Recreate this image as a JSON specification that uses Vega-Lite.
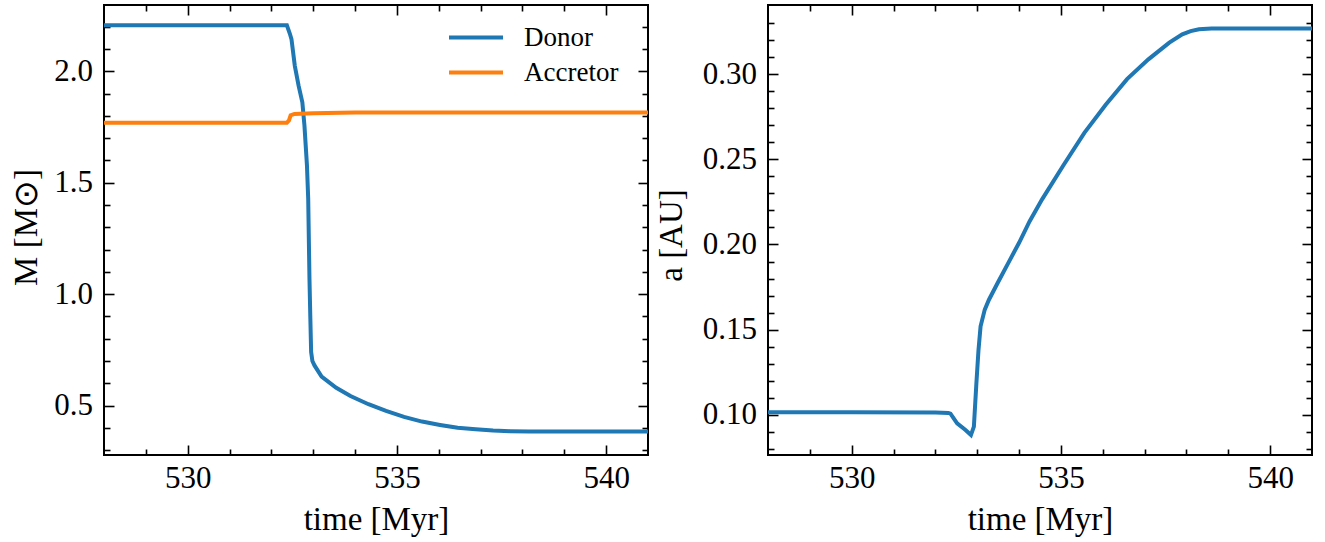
{
  "$schema": "https://vega.github.io/schema/vega-lite/v6.json",
  "padding": {"left": 9, "top": 3, "right": 5, "bottom": 5},
  "spacing": -3,
  "config": {
    "view": {"stroke": "black", "strokeWidth": 2},
    "axis": {"domain": false, "grid": false, "tickColor": "black", "tickWidth": 1.6, "labelFont": "Liberation Serif, Times New Roman, serif", "labelFontSize": 31, "labelColor": "black", "titleFont": "Liberation Serif, Times New Roman, serif", "titleFontSize": 33, "titleFontWeight": "normal", "titleColor": "black", "labelFlush": false, "labelOverlap": false}
  },
  "datasets": {
    "mass": [
      {"t": 528, "m": 2.207, "star": "Donor"},
      {"t": 530, "m": 2.207, "star": "Donor"},
      {"t": 532.37, "m": 2.207, "star": "Donor"},
      {"t": 532.44, "m": 2.17, "star": "Donor"},
      {"t": 532.48, "m": 2.145, "star": "Donor"},
      {"t": 532.56, "m": 2.025, "star": "Donor"},
      {"t": 532.65, "m": 1.936, "star": "Donor"},
      {"t": 532.74, "m": 1.861, "star": "Donor"},
      {"t": 532.79, "m": 1.757, "star": "Donor"},
      {"t": 532.85, "m": 1.578, "star": "Donor"},
      {"t": 532.88, "m": 1.428, "star": "Donor"},
      {"t": 532.91, "m": 1.07, "star": "Donor"},
      {"t": 532.93, "m": 0.9, "star": "Donor"},
      {"t": 532.95, "m": 0.74, "star": "Donor"},
      {"t": 532.98, "m": 0.70, "star": "Donor"},
      {"t": 533.03, "m": 0.68, "star": "Donor"},
      {"t": 533.2, "m": 0.63, "star": "Donor"},
      {"t": 533.55, "m": 0.58, "star": "Donor"},
      {"t": 533.89, "m": 0.543, "star": "Donor"},
      {"t": 534.32, "m": 0.506, "star": "Donor"},
      {"t": 534.74, "m": 0.476, "star": "Donor"},
      {"t": 535.17, "m": 0.449, "star": "Donor"},
      {"t": 535.6, "m": 0.428, "star": "Donor"},
      {"t": 536.03, "m": 0.413, "star": "Donor"},
      {"t": 536.45, "m": 0.40, "star": "Donor"},
      {"t": 536.88, "m": 0.394, "star": "Donor"},
      {"t": 537.3, "m": 0.388, "star": "Donor"},
      {"t": 537.7, "m": 0.385, "star": "Donor"},
      {"t": 538.16, "m": 0.383, "star": "Donor"},
      {"t": 541, "m": 0.383, "star": "Donor"},
      {"t": 528, "m": 1.769, "star": "Accretor"},
      {"t": 532.37, "m": 1.769, "star": "Accretor"},
      {"t": 532.42, "m": 1.78, "star": "Accretor"},
      {"t": 532.46, "m": 1.803, "star": "Accretor"},
      {"t": 532.55, "m": 1.809, "star": "Accretor"},
      {"t": 533.0, "m": 1.812, "star": "Accretor"},
      {"t": 534.0, "m": 1.815, "star": "Accretor"},
      {"t": 541, "m": 1.816, "star": "Accretor"}
    ],
    "sep": [
      {"t": 528, "a": 0.1016},
      {"t": 530, "a": 0.1016},
      {"t": 532.0, "a": 0.1015},
      {"t": 532.31, "a": 0.1012},
      {"t": 532.36, "a": 0.1008},
      {"t": 532.52, "a": 0.0951},
      {"t": 532.72, "a": 0.0912},
      {"t": 532.85, "a": 0.0882},
      {"t": 532.92, "a": 0.0931},
      {"t": 532.98, "a": 0.1186},
      {"t": 533.03, "a": 0.138},
      {"t": 533.08, "a": 0.152},
      {"t": 533.18, "a": 0.1618},
      {"t": 533.28, "a": 0.1676},
      {"t": 533.5, "a": 0.178},
      {"t": 533.75, "a": 0.1895},
      {"t": 534.0, "a": 0.201},
      {"t": 534.25, "a": 0.2135},
      {"t": 534.55, "a": 0.2265},
      {"t": 535.06, "a": 0.2465},
      {"t": 535.56, "a": 0.2655},
      {"t": 536.07, "a": 0.282},
      {"t": 536.58, "a": 0.297},
      {"t": 537.09, "a": 0.3086},
      {"t": 537.59, "a": 0.3184},
      {"t": 537.9, "a": 0.3233},
      {"t": 538.1, "a": 0.3252},
      {"t": 538.3, "a": 0.3263},
      {"t": 538.6, "a": 0.3267},
      {"t": 541, "a": 0.3267}
    ]
  },
  "hconcat": [
    {
      "width": 544,
      "height": 450,
      "data": {"name": "mass"},
      "resolve": {"axis": {"x": "independent", "y": "independent"}},
      "layer": [
        {
          "mark": {"type": "line", "strokeWidth": 4},
          "encoding": {
            "x": {"field": "t", "type": "quantitative", "scale": {"domain": [528, 541], "nice": false, "zero": false},
              "axis": {"orient": "bottom", "values": [530, 535, 540], "format": "d", "tickSize": -10, "labelPadding": 18, "title": "time [Myr]", "titleY": 74, "titleBaseline": "alphabetic"}},
            "y": {"field": "m", "type": "quantitative", "scale": {"domain": [0.278, 2.298], "nice": false, "zero": false},
              "axis": {"orient": "left", "values": [0.5, 1.0, 1.5, 2.0], "format": ".1f", "tickSize": -10, "labelPadding": 21.5, "title": "M [M⊙]", "titleX": -78, "titleY": 222, "titleAngle": 270, "titleAlign": "center", "titleBaseline": "middle"}},
            "color": {"field": "star", "type": "nominal", "scale": {"domain": ["Donor", "Accretor"], "range": ["#1f77b4", "#ff7f0e"]},
              "legend": {"title": null, "orient": "none", "legendX": 343, "legendY": 15, "symbolType": "stroke", "symbolSize": 2916, "symbolStrokeWidth": 4, "clipHeight": 35, "labelFont": "Liberation Serif, Times New Roman, serif", "labelFontSize": 27, "labelColor": "black", "labelOffset": 19, "padding": 0, "rowPadding": 0}}
          }
        },
        {
          "mark": {"type": "line", "opacity": 0},
          "encoding": {
            "x": {"field": "t", "type": "quantitative", "scale": {"domain": [528, 541], "nice": false, "zero": false},
              "axis": {"orient": "bottom", "values": [529, 531, 532, 533, 534, 536, 537, 538, 539], "labels": false, "tickSize": -6, "title": null}},
            "y": {"field": "m", "type": "quantitative", "scale": {"domain": [0.278, 2.298], "nice": false, "zero": false},
              "axis": {"orient": "left", "values": [0.3, 0.4, 0.6, 0.7, 0.8, 0.9, 1.1, 1.2, 1.3, 1.4, 1.6, 1.7, 1.8, 1.9, 2.1, 2.2], "labels": false, "tickSize": -6, "title": null}},
            "detail": {"field": "star"}
          }
        },
        {
          "mark": {"type": "line", "opacity": 0},
          "encoding": {
            "x": {"field": "t", "type": "quantitative", "scale": {"domain": [528, 541], "nice": false, "zero": false},
              "axis": {"orient": "top", "values": [530, 535, 540], "labels": false, "tickSize": -10, "title": null}},
            "y": {"field": "m", "type": "quantitative", "scale": {"domain": [0.278, 2.298], "nice": false, "zero": false},
              "axis": {"orient": "right", "values": [0.5, 1.0, 1.5, 2.0], "labels": false, "tickSize": -10, "title": null}},
            "detail": {"field": "star"}
          }
        },
        {
          "mark": {"type": "line", "opacity": 0},
          "encoding": {
            "x": {"field": "t", "type": "quantitative", "scale": {"domain": [528, 541], "nice": false, "zero": false},
              "axis": {"orient": "top", "values": [529, 531, 532, 533, 534, 536, 537, 538, 539], "labels": false, "tickSize": -6, "title": null}},
            "y": {"field": "m", "type": "quantitative", "scale": {"domain": [0.278, 2.298], "nice": false, "zero": false},
              "axis": {"orient": "right", "values": [0.3, 0.4, 0.6, 0.7, 0.8, 0.9, 1.1, 1.2, 1.3, 1.4, 1.6, 1.7, 1.8, 1.9, 2.1, 2.2], "labels": false, "tickSize": -6, "title": null}},
            "detail": {"field": "star"}
          }
        }
      ]
    },
    {
      "width": 544,
      "height": 450,
      "data": {"name": "sep"},
      "resolve": {"axis": {"x": "independent", "y": "independent"}},
      "layer": [
        {
          "mark": {"type": "line", "strokeWidth": 4, "color": "#1f77b4"},
          "encoding": {
            "x": {"field": "t", "type": "quantitative", "scale": {"domain": [528, 541], "nice": false, "zero": false},
              "axis": {"orient": "bottom", "values": [530, 535, 540], "format": "d", "tickSize": -10, "labelPadding": 18, "title": "time [Myr]", "titleY": 74, "titleBaseline": "alphabetic"}},
            "y": {"field": "a", "type": "quantitative", "scale": {"domain": [0.0765, 0.3405], "nice": false, "zero": false},
              "axis": {"orient": "left", "values": [0.1, 0.15, 0.2, 0.25, 0.3], "format": ".2f", "tickSize": -10, "labelPadding": 21.5, "title": "a [AU]", "titleX": -97, "titleY": 230, "titleAngle": 270, "titleAlign": "center", "titleBaseline": "middle"}}
          }
        },
        {
          "mark": {"type": "line", "opacity": 0},
          "encoding": {
            "x": {"field": "t", "type": "quantitative", "scale": {"domain": [528, 541], "nice": false, "zero": false},
              "axis": {"orient": "bottom", "values": [529, 531, 532, 533, 534, 536, 537, 538, 539], "labels": false, "tickSize": -6, "title": null}},
            "y": {"field": "a", "type": "quantitative", "scale": {"domain": [0.0765, 0.3405], "nice": false, "zero": false},
              "axis": {"orient": "left", "values": [0.08, 0.09, 0.11, 0.12, 0.13, 0.14, 0.16, 0.17, 0.18, 0.19, 0.21, 0.22, 0.23, 0.24, 0.26, 0.27, 0.28, 0.29, 0.31, 0.32, 0.33], "labels": false, "tickSize": -6, "title": null}}
          }
        },
        {
          "mark": {"type": "line", "opacity": 0},
          "encoding": {
            "x": {"field": "t", "type": "quantitative", "scale": {"domain": [528, 541], "nice": false, "zero": false},
              "axis": {"orient": "top", "values": [530, 535, 540], "labels": false, "tickSize": -10, "title": null}},
            "y": {"field": "a", "type": "quantitative", "scale": {"domain": [0.0765, 0.3405], "nice": false, "zero": false},
              "axis": {"orient": "right", "values": [0.1, 0.15, 0.2, 0.25, 0.3], "labels": false, "tickSize": -10, "title": null}}
          }
        },
        {
          "mark": {"type": "line", "opacity": 0},
          "encoding": {
            "x": {"field": "t", "type": "quantitative", "scale": {"domain": [528, 541], "nice": false, "zero": false},
              "axis": {"orient": "top", "values": [529, 531, 532, 533, 534, 536, 537, 538, 539], "labels": false, "tickSize": -6, "title": null}},
            "y": {"field": "a", "type": "quantitative", "scale": {"domain": [0.0765, 0.3405], "nice": false, "zero": false},
              "axis": {"orient": "right", "values": [0.08, 0.09, 0.11, 0.12, 0.13, 0.14, 0.16, 0.17, 0.18, 0.19, 0.21, 0.22, 0.23, 0.24, 0.26, 0.27, 0.28, 0.29, 0.31, 0.32, 0.33], "labels": false, "tickSize": -6, "title": null}}
          }
        }
      ]
    }
  ]
}
